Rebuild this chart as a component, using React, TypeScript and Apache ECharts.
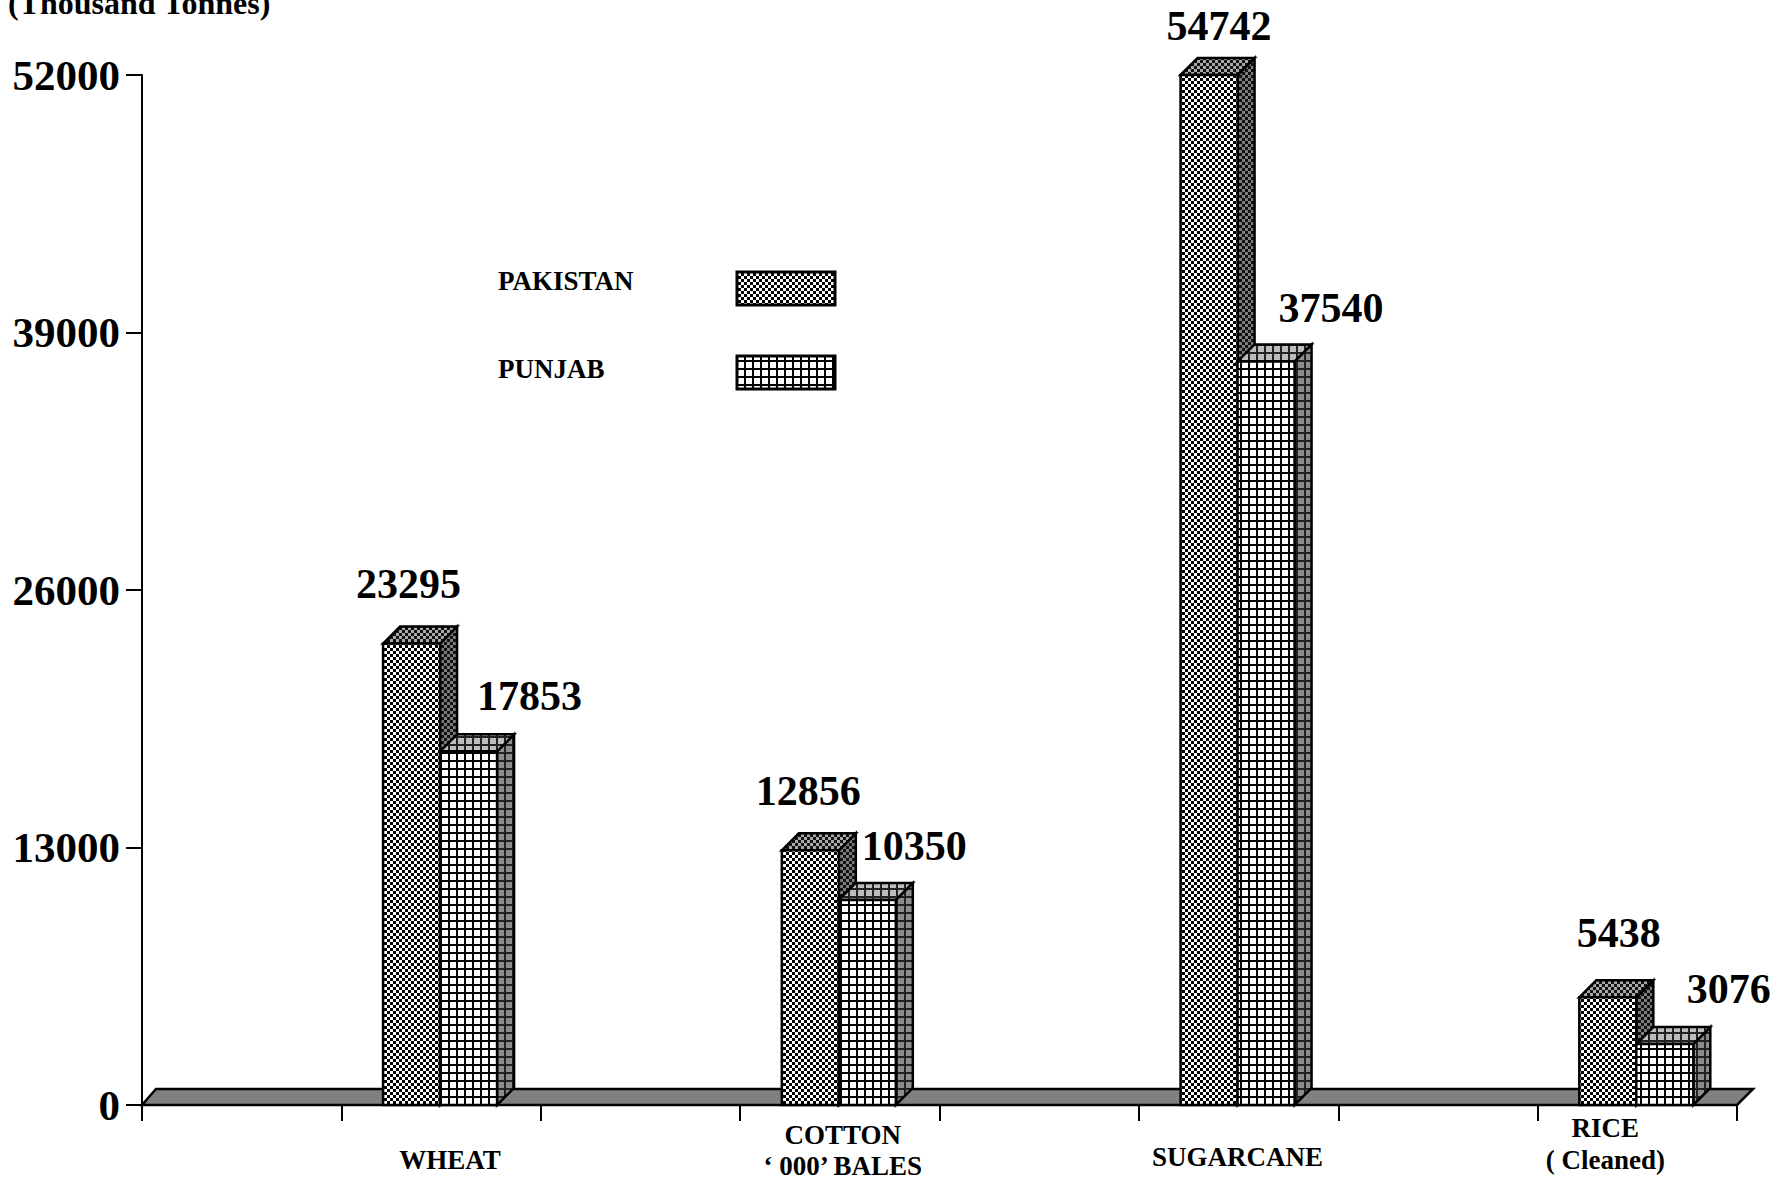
import React, { useEffect, useRef } from "react";
import * as echarts from "echarts";

const categories = ["", "WHEAT", "", "COTTON\n‘ 000’ BALES", "", "SUGARCANE", "", "RICE\n( Cleaned)"];
const pakistan = [null, 23295, null, 12856, null, 54742, null, 5438];
const punjab = [null, 17853, null, 10350, null, 37540, null, 3076];
const yTicks = { min: 0, max: 52000, interval: 13000 };
const legendNames = ["PAKISTAN", "PUNJAB"];
const unitLabel = "(Thousand Tonnes)";

const FONT = "'Liberation Serif', 'Times New Roman', serif";
const DEPTH = 17;
const BAR_W = 57;
const BAR_SHIFT = -1;
// label nudges, [dx from bar centre, dy above bar top]
const nudgePak: Record<number, number[]> = { 1: [-3, 60], 3: [-2, 59], 5: [10, 49], 7: [11, 64] };
const nudgePun: Record<number, number[]> = { 1: [61, 55], 3: [47, 54], 5: [65, 53], 7: [64, 55] };
// per-label padding for the category labels
const labelStyle: Record<number, any> = {
  1: { padding: [32, 0, 0, 18], lineHeight: 32 },
  3: { padding: [7, 0, 0, 6], lineHeight: 31 },
  5: { padding: [29, 2, 0, 0], lineHeight: 32 },
  7: { padding: [0, 64, 0, 0], lineHeight: 32 },
};

function makeCanvas(size: number, draw: (c: CanvasRenderingContext2D) => void) {
  const cv = document.createElement("canvas");
  cv.width = size;
  cv.height = size;
  const c = cv.getContext("2d")!;
  draw(c);
  return cv;
}
function checker(bg: string, ink: string) {
  const image = makeCanvas(6, (c) => {
    c.fillStyle = bg;
    c.fillRect(0, 0, 6, 6);
    c.fillStyle = ink;
    c.fillRect(0, 0, 3, 3);
    c.fillRect(3, 3, 3, 3);
  });
  return { image, repeat: "repeat" };
}
function gridPat(bg: string, ink: string) {
  const image = makeCanvas(8, (c) => {
    c.fillStyle = bg;
    c.fillRect(0, 0, 8, 8);
    c.fillStyle = ink;
    c.fillRect(0, 0, 8, 2);
    c.fillRect(0, 0, 2, 8);
  });
  return { image, repeat: "repeat" };
}

function box(api: any, idx: number, values: any[], side: number, faces: any, nudge: Record<number, number[]>) {
  const raw = values[idx];
  if (raw == null) return null;
  const base = api.coord([idx, 0]);
  const top = api.coord([idx, Math.min(raw, yTicks.max)]);
  const mid = base[0] + BAR_SHIFT;
  const x0 = side < 0 ? mid - BAR_W : mid;
  const x1 = x0 + BAR_W;
  const yT = top[1];
  const yB = base[1];
  const line = { stroke: "#000", lineWidth: 2.5 };
  const n = nudge[idx] || [0, 60];
  return {
    type: "group",
    children: [
      { type: "polygon", shape: { points: [[x1, yT], [x1 + DEPTH, yT - DEPTH], [x1 + DEPTH, yB - DEPTH], [x1, yB]] }, style: { fill: faces.side, ...line } },
      { type: "polygon", shape: { points: [[x0, yT], [x0 + DEPTH, yT - DEPTH], [x1 + DEPTH, yT - DEPTH], [x1, yT]] }, style: { fill: faces.top, ...line } },
      { type: "rect", shape: { x: x0, y: yT, width: BAR_W, height: yB - yT }, style: { fill: faces.front, ...line } },
      {
        type: "text",
        x: (x0 + x1) / 2 + n[0],
        y: yT - n[1],
        style: { text: String(raw), font: `bold 42px ${FONT}`, fill: "#000", align: "center", verticalAlign: "middle" },
      },
    ],
  };
}

export default function App() {
  const ref = useRef<HTMLDivElement>(null);
  useEffect(() => {
    const chart = echarts.init(ref.current!, undefined, { renderer: "svg" });
    const pakFaces = { front: checker("#fff", "#000"), top: checker("#a8a8a8", "#111"), side: checker("#7c7c7c", "#111") };
    const punFaces = { front: gridPat("#fff", "#000"), top: gridPat("#bcbcbc", "#222"), side: gridPat("#8c8c8c", "#222") };
    chart.setOption({
      animation: false,
      backgroundColor: "#fff",
      grid: { left: 142, right: 55, top: 75, bottom: 73, outerBoundsMode: "none" },
      xAxis: {
        type: "category",
        data: categories.map((value, i) => ({ value, textStyle: labelStyle[i] })),
        boundaryGap: true,
        axisLine: { lineStyle: { color: "#000", width: 2 } },
        axisTick: { show: true, length: 16, alignWithLabel: false, interval: 0, lineStyle: { color: "#000", width: 2 } },
        axisLabel: { interval: 0, margin: 7, color: "#000", fontFamily: FONT, fontWeight: "bold", fontSize: 27, hideOverlap: false },
        splitLine: { show: false },
      },
      yAxis: {
        type: "value",
        ...yTicks,
        axisLine: { show: true, lineStyle: { color: "#000", width: 2 } },
        axisTick: { show: true, length: 16, lineStyle: { color: "#000", width: 2 } },
        axisLabel: { margin: 22, color: "#000", fontFamily: FONT, fontWeight: "bold", fontSize: 43, formatter: (v: number) => String(v) },
        splitLine: { show: false },
      },
      series: [
        {
          type: "custom",
          clip: false,
          z: 1,
          data: [[0, 0]],
          renderItem: (_p: any, api: any) => {
            const a = api.coord([0, 0]);
            const half = api.size([1, 0])[0] / 2;
            const b = api.coord([categories.length - 1, 0]);
            const x0 = a[0] - half;
            const x1 = b[0] + half;
            return {
              type: "polygon",
              shape: { points: [[x0, a[1]], [x0 + 14, a[1] - 16], [x1 + 16, a[1] - 16], [x1, a[1]]] },
              style: { fill: "#808080", stroke: "#000", lineWidth: 2.5 },
            };
          },
        },
        {
          type: "custom",
          name: "PAKISTAN",
          clip: false,
          z: 2,
          data: pakistan.map((v, i) => [i, v]),
          renderItem: (p: any, api: any) => box(api, p.dataIndex, pakistan, -1, pakFaces, nudgePak),
        },
        {
          type: "custom",
          name: "PUNJAB",
          clip: false,
          z: 3,
          data: punjab.map((v, i) => [i, v]),
          renderItem: (p: any, api: any) => box(api, p.dataIndex, punjab, 1, punFaces, nudgePun),
        },
      ],
      graphic: [
        { type: "text", left: 8, top: -13, style: { text: unitLabel, font: `bold 32px ${FONT}`, fill: "#000" } },
        { type: "text", x: 498, y: 281, style: { text: legendNames[0], font: `bold 27px ${FONT}`, fill: "#000", verticalAlign: "middle" } },
        { type: "text", x: 498, y: 369, style: { text: legendNames[1], font: `bold 27px ${FONT}`, fill: "#000", verticalAlign: "middle" } },
        { type: "rect", shape: { x: 737, y: 272, width: 98, height: 33 }, style: { fill: pakFaces.front, stroke: "#000", lineWidth: 3 } },
        { type: "rect", shape: { x: 737, y: 356, width: 98, height: 33 }, style: { fill: punFaces.front, stroke: "#000", lineWidth: 3 } },
      ],
    });
    return () => chart.dispose();
  }, []);
  return <div ref={ref} style={{ position: "absolute", left: 0, top: 0, width: 1792, height: 1178 }} />;
}
